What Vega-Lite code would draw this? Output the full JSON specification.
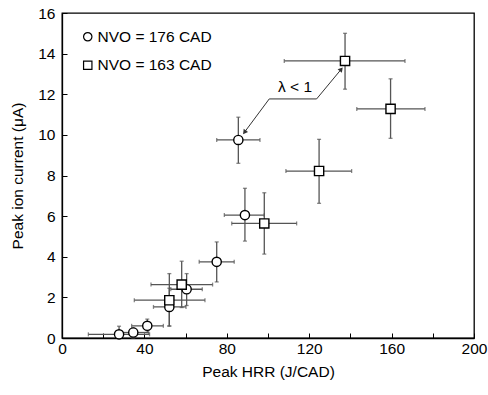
{
  "$schema": "https://vega.github.io/schema/vega-lite/v6.json",
  "autosize": {"type": "none"},
  "padding": {"left": 62, "top": 13, "right": 14, "bottom": 57},
  "width": 412,
  "height": 325,
  "background": "white",
  "datasets": {
    "pts": [
      {"series": "NVO = 176 CAD", "x": 27.7, "y": 0.18, "xlo": 12.8, "xhi": 42.5, "ylo": 0, "yhi": 0.58},
      {"series": "NVO = 176 CAD", "x": 34.6, "y": 0.27, "xlo": 27.0, "xhi": 42.0, "ylo": 0, "yhi": 0.5},
      {"series": "NVO = 176 CAD", "x": 41.4, "y": 0.6, "xlo": 33.8, "xhi": 49.2, "ylo": 0.27, "yhi": 0.93},
      {"series": "NVO = 176 CAD", "x": 52.1, "y": 1.53, "xlo": 44.4, "xhi": 60.2, "ylo": 0.6, "yhi": 2.45},
      {"series": "NVO = 176 CAD", "x": 60.5, "y": 2.4, "xlo": 52.8, "xhi": 68.1, "ylo": 1.6, "yhi": 3.17},
      {"series": "NVO = 176 CAD", "x": 75.1, "y": 3.75, "xlo": 66.6, "xhi": 83.6, "ylo": 2.76, "yhi": 4.73},
      {"series": "NVO = 176 CAD", "x": 88.8, "y": 6.05, "xlo": 78.8, "xhi": 98.2, "ylo": 4.77, "yhi": 7.37},
      {"series": "NVO = 176 CAD", "x": 85.6, "y": 9.75, "xlo": 75.1, "xhi": 96.1, "ylo": 8.6, "yhi": 10.87},
      {"series": "NVO = 163 CAD", "x": 52.1, "y": 1.86, "xlo": 35.1, "xhi": 69.4, "ylo": 0.58, "yhi": 3.17},
      {"series": "NVO = 163 CAD", "x": 58.1, "y": 2.63, "xlo": 43.2, "xhi": 73.1, "ylo": 1.5, "yhi": 3.78},
      {"series": "NVO = 163 CAD", "x": 98.2, "y": 5.64, "xlo": 82.4, "xhi": 113.9, "ylo": 4.13, "yhi": 7.15},
      {"series": "NVO = 163 CAD", "x": 124.8, "y": 8.22, "xlo": 108.7, "xhi": 140.6, "ylo": 6.63, "yhi": 9.78},
      {"series": "NVO = 163 CAD", "x": 137.4, "y": 13.64, "xlo": 107.9, "xhi": 166.5, "ylo": 12.25, "yhi": 15.0},
      {"series": "NVO = 163 CAD", "x": 159.5, "y": 11.28, "xlo": 143.1, "xhi": 176.2, "ylo": 9.83, "yhi": 12.76}
    ],
    "arrow": [
      {"order": 1, "x": 135.3, "y": 13.2, "end": "start"},
      {"order": 2, "x": 123.6, "y": 11.77, "end": "mid"},
      {"order": 3, "x": 100.6, "y": 11.77, "end": "mid"},
      {"order": 4, "x": 88.8, "y": 10.16, "end": "finish"}
    ],
    "label": [
      {"x": 113.1, "y": 12.38, "text": "λ < 1"}
    ]
  },
  "layer": [
    {
      "data": {"name": "pts"},
      "mark": {"type": "errorbar", "color": "#555555", "thickness": 1.3, "ticks": {"size": 4, "thickness": 1.3, "color": "#555555"}},
      "encoding": {
        "x": {"field": "xlo", "type": "quantitative", "title": "Peak HRR (J/CAD)", "scale": {"domain": [0, 200], "nice": false}},
        "x2": {"field": "xhi"},
        "y": {"field": "y", "type": "quantitative", "title": "Peak ion current (μA)", "scale": {"domain": [0, 16], "nice": false}}
      }
    },
    {
      "data": {"name": "pts"},
      "mark": {"type": "errorbar", "color": "#555555", "thickness": 1.3, "ticks": {"size": 4, "thickness": 1.3, "color": "#555555"}},
      "encoding": {
        "y": {"field": "ylo", "type": "quantitative", "title": "Peak ion current (μA)", "scale": {"domain": [0, 16], "nice": false}},
        "y2": {"field": "yhi"},
        "x": {"field": "x", "type": "quantitative", "title": "Peak HRR (J/CAD)", "scale": {"domain": [0, 200], "nice": false}}
      }
    },
    {
      "data": {"name": "pts"},
      "mark": {"type": "point", "filled": false, "fill": "white", "fillOpacity": 1, "strokeWidth": 1.4, "size": 85, "opacity": 1},
      "encoding": {
        "x": {"field": "x", "type": "quantitative", "title": "Peak HRR (J/CAD)"},
        "y": {"field": "y", "type": "quantitative", "title": "Peak ion current (μA)"},
        "color": {
          "field": "series", "type": "nominal", "title": null,
          "scale": {"domain": ["NVO = 176 CAD", "NVO = 163 CAD"], "range": ["black", "black"]},
          "legend": {
            "title": null, "orient": "none", "legendX": 18, "legendY": 16,
            "padding": 0, "rowPadding": 11.5, "labelOffset": 2,
            "symbolSize": 70, "symbolStrokeWidth": 1.2, "symbolFillColor": "white",
            "labelFontSize": 15.5, "labelColor": "black", "labelFont": "Liberation Sans"
          }
        },
        "shape": {
          "field": "series", "type": "nominal", "title": null,
          "scale": {"domain": ["NVO = 176 CAD", "NVO = 163 CAD"], "range": ["circle", "square"]},
          "legend": {
            "title": null, "orient": "none", "legendX": 18, "legendY": 16,
            "padding": 0, "rowPadding": 11.5, "labelOffset": 2,
            "symbolSize": 70, "symbolStrokeWidth": 1.2, "symbolFillColor": "white",
            "labelFontSize": 15.5, "labelColor": "black", "labelFont": "Liberation Sans"
          }
        }
      }
    },
    {
      "data": {"name": "arrow"},
      "mark": {"type": "line", "color": "#333333", "strokeWidth": 1},
      "encoding": {
        "x": {"field": "x", "type": "quantitative"},
        "y": {"field": "y", "type": "quantitative"},
        "order": {"field": "order"}
      }
    },
    {
      "data": {"name": "arrow"},
      "transform": [{"filter": "datum.end == 'start'"}],
      "mark": {"type": "point", "shape": "triangle", "filled": true, "color": "#333333", "size": 30, "angle": 39.6, "opacity": 1},
      "encoding": {
        "x": {"field": "x", "type": "quantitative"},
        "y": {"field": "y", "type": "quantitative"}
      }
    },
    {
      "data": {"name": "arrow"},
      "transform": [{"filter": "datum.end == 'finish'"}],
      "mark": {"type": "point", "shape": "triangle", "filled": true, "color": "#333333", "size": 30, "angle": 216.9, "opacity": 1},
      "encoding": {
        "x": {"field": "x", "type": "quantitative"},
        "y": {"field": "y", "type": "quantitative"}
      }
    },
    {
      "data": {"name": "label"},
      "mark": {"type": "text", "fontSize": 15.5, "font": "Liberation Sans", "color": "black"},
      "encoding": {
        "x": {"field": "x", "type": "quantitative"},
        "y": {"field": "y", "type": "quantitative"},
        "text": {"field": "text"}
      }
    }
  ],
  "config": {
    "font": "Liberation Sans",
    "view": {"stroke": "black", "strokeWidth": 1.3},
    "axis": {
      "grid": false,
      "domainColor": "black",
      "domainWidth": 1.3,
      "tickColor": "black",
      "tickWidth": 1,
      "tickSize": -5,
      "labelFontSize": 15.5,
      "labelColor": "black",
      "labelFont": "Liberation Sans",
      "titleFontSize": 15.5,
      "titleFontWeight": "normal",
      "titleColor": "black",
      "titleFont": "Liberation Sans"
    },
    "axisX": {
      "values": [0, 20, 40, 60, 80, 100, 120, 140, 160, 180, 200],
      "labelExpr": "datum.value % 40 == 0 ? datum.label : ''",
      "labelPadding": 8,
      "titlePadding": 8,
      "labelFlush": false,
      "labelOverlap": false
    },
    "axisY": {
      "values": [0, 1, 2, 3, 4, 5, 6, 7, 8, 9, 10, 11, 12, 13, 14, 15, 16],
      "labelExpr": "datum.value % 2 == 0 ? datum.label : ''",
      "labelPadding": 12,
      "titlePadding": 12,
      "labelFlush": false,
      "labelOverlap": false
    }
  }
}
